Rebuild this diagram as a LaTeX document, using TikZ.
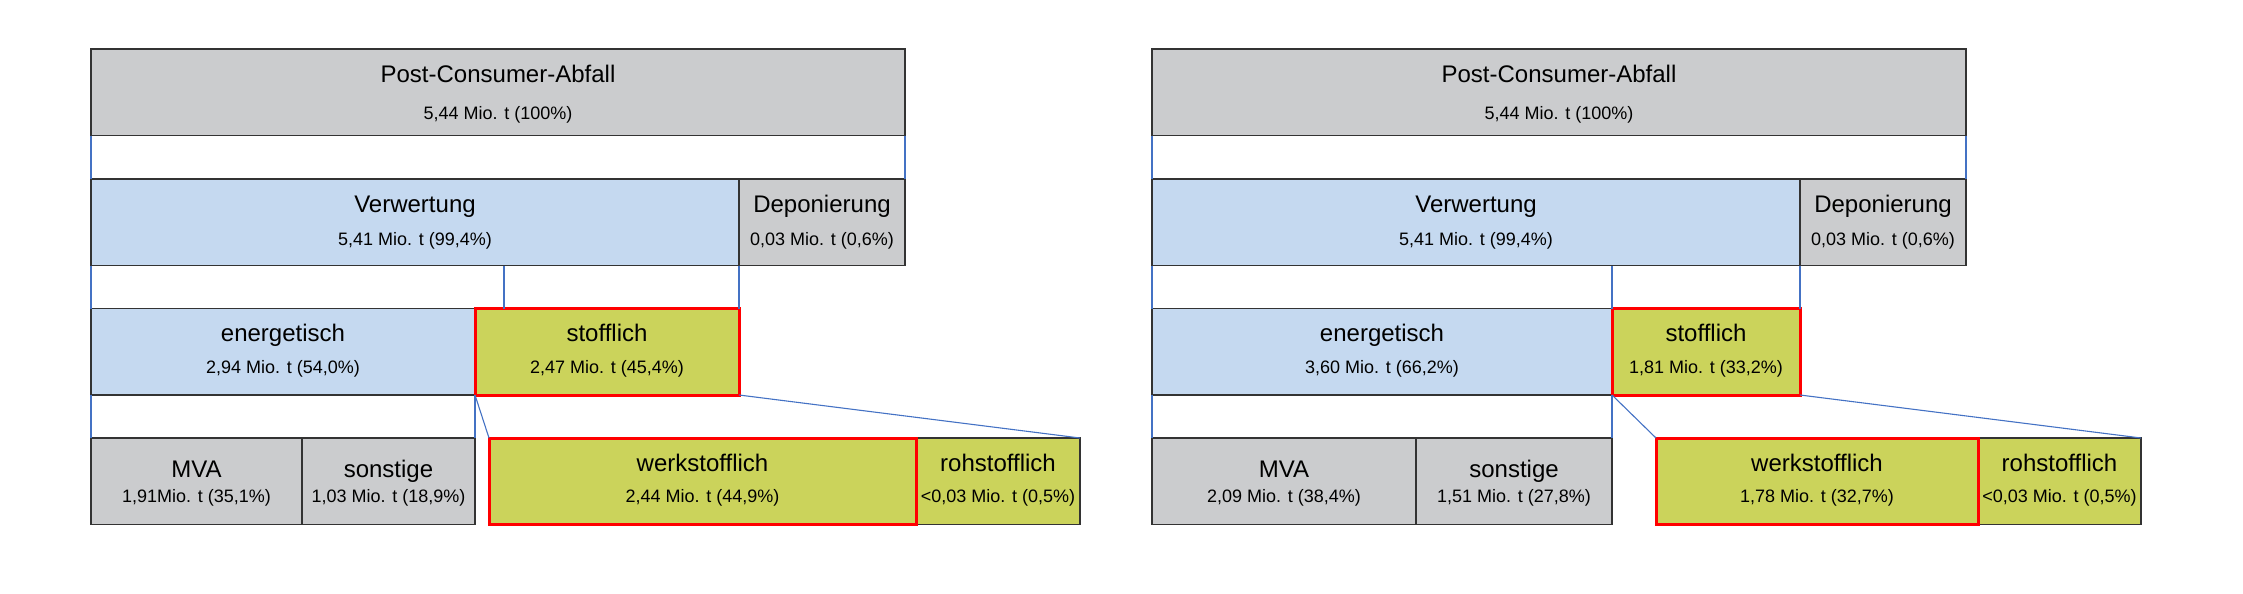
\documentclass[tikz,border=0pt]{standalone}
\usepackage{fontspec}
\setmainfont{Liberation Sans}
\definecolor{boxgray}{RGB}{203,204,206}
\definecolor{boxblue}{RGB}{197,217,240}
\definecolor{boxolive}{RGB}{203,211,91}
\definecolor{linkblue}{RGB}{68,114,196}
\begin{document}
\begin{tikzpicture}[x=1pt, y=-1pt,
    cell/.style={draw=black!80, line width=1.2pt, minimum height=86.5, anchor=north west, inner sep=0, outer sep=0},
    greybox/.style={cell, fill=boxgray},
    bluebox/.style={cell, fill=boxblue},
    olivebox/.style={cell, fill=boxolive},
    hilite/.style={draw=red, line width=3pt},
    ttl/.style={anchor=base, inner sep=0, font=\fontsize{24}{28}\selectfont},
    val/.style={anchor=base, inner sep=0, font=\fontsize{18}{22}\selectfont},
    link/.style={draw=linkblue, line width=1.1pt}]
    \useasboundingbox (0,0) rectangle (2243,594);

    \node[greybox, minimum width=814] (postA) at (91,49) {};
    \node[ttl] (postA-t) at ([yshift=-33]postA.north) {Post-Consumer-Abfall};
    \node[val] (postA-v) at ([yshift=-70]postA.north) {5,44 Mio. t (100\%)};
    \node[bluebox, minimum width=648] (verwA) at (91,179) {};
    \node[ttl] (verwA-t) at ([yshift=-33]verwA.north) {Verwertung};
    \node[val] (verwA-v) at ([yshift=-66.5]verwA.north) {5,41 Mio. t (99,4\%)};
    \node[greybox, minimum width=166] (depA) at (739,179) {};
    \node[ttl] (depA-t) at ([yshift=-33]depA.north) {Deponierung};
    \node[val] (depA-v) at ([yshift=-66.5]depA.north) {0,03 Mio. t (0,6\%)};
    \node[bluebox, minimum width=384] (enA) at (91,308.5) {};
    \node[ttl] (enA-t) at ([yshift=-33]enA.north) {energetisch};
    \node[val] (enA-v) at ([yshift=-65]enA.north) {2,94 Mio. t (54,0\%)};
    \node[olivebox, hilite, minimum width=264] (stoffA) at (475,308.5) {};
    \node[ttl] (stoffA-t) at ([yshift=-33]stoffA.north) {stofflich};
    \node[val] (stoffA-v) at ([yshift=-65]stoffA.north) {2,47 Mio. t (45,4\%)};
    \node[greybox, minimum width=211] (mvaA) at (91,438) {};
    \node[ttl] (mvaA-t) at ([yshift=-39]mvaA.north) {MVA};
    \node[val] (mvaA-v) at ([yshift=-64.5]mvaA.north) {1,91Mio. t (35,1\%)};
    \node[greybox, minimum width=173] (sonstA) at (302,438) {};
    \node[ttl] (sonstA-t) at ([yshift=-39]sonstA.north) {sonstige};
    \node[val] (sonstA-v) at ([yshift=-64.5]sonstA.north) {1,03 Mio. t (18,9\%)};
    \node[olivebox, minimum width=164] (rohA) at (916,438) {};
    \node[ttl] (rohA-t) at ([yshift=-33]rohA.north) {rohstofflich};
    \node[val] (rohA-v) at ([yshift=-64.5]rohA.north) {<0,03 Mio. t (0,5\%)};
    \node[olivebox, hilite, minimum width=427] (werkA) at (489,438) {};
    \node[ttl] (werkA-t) at ([yshift=-33]werkA.north) {werkstofflich};
    \node[val] (werkA-v) at ([yshift=-64.5]werkA.north) {2,44 Mio. t (44,9\%)};

    \node[greybox, minimum width=814] (postB) at (1152,49) {};
    \node[ttl] (postB-t) at ([yshift=-33]postB.north) {Post-Consumer-Abfall};
    \node[val] (postB-v) at ([yshift=-70]postB.north) {5,44 Mio. t (100\%)};
    \node[bluebox, minimum width=648] (verwB) at (1152,179) {};
    \node[ttl] (verwB-t) at ([yshift=-33]verwB.north) {Verwertung};
    \node[val] (verwB-v) at ([yshift=-66.5]verwB.north) {5,41 Mio. t (99,4\%)};
    \node[greybox, minimum width=166] (depB) at (1800,179) {};
    \node[ttl] (depB-t) at ([yshift=-33]depB.north) {Deponierung};
    \node[val] (depB-v) at ([yshift=-66.5]depB.north) {0,03 Mio. t (0,6\%)};
    \node[bluebox, minimum width=460] (enB) at (1152,308.5) {};
    \node[ttl] (enB-t) at ([yshift=-33]enB.north) {energetisch};
    \node[val] (enB-v) at ([yshift=-65]enB.north) {3,60 Mio. t (66,2\%)};
    \node[olivebox, hilite, minimum width=188] (stoffB) at (1612,308.5) {};
    \node[ttl] (stoffB-t) at ([yshift=-33]stoffB.north) {stofflich};
    \node[val] (stoffB-v) at ([yshift=-65]stoffB.north) {1,81 Mio. t (33,2\%)};
    \node[greybox, minimum width=264] (mvaB) at (1152,438) {};
    \node[ttl] (mvaB-t) at ([yshift=-39]mvaB.north) {MVA};
    \node[val] (mvaB-v) at ([yshift=-64.5]mvaB.north) {2,09 Mio. t (38,4\%)};
    \node[greybox, minimum width=196] (sonstB) at (1416,438) {};
    \node[ttl] (sonstB-t) at ([yshift=-39]sonstB.north) {sonstige};
    \node[val] (sonstB-v) at ([yshift=-64.5]sonstB.north) {1,51 Mio. t (27,8\%)};
    \node[olivebox, minimum width=163] (rohB) at (1978,438) {};
    \node[ttl] (rohB-t) at ([yshift=-33]rohB.north) {rohstofflich};
    \node[val] (rohB-v) at ([yshift=-64.5]rohB.north) {<0,03 Mio. t (0,5\%)};
    \node[olivebox, hilite, minimum width=322] (werkB) at (1656,438) {};
    \node[ttl] (werkB-t) at ([yshift=-33]werkB.north) {werkstofflich};
    \node[val] (werkB-v) at ([yshift=-64.5]werkB.north) {1,78 Mio. t (32,7\%)};

    \coordinate (splitA) at ([xshift=29]stoffA.north west);
    \draw[link] (postA.south west) -- (verwA.north west);
    \draw[link] (postA.south east) -- (depA.north east);
    \draw[link] (verwA.south west) -- (enA.north west);
    \draw[link] (splitA) -- (splitA |- verwA.south);
    \draw[link] (depA.south west) -- (stoffA.north east);
    \draw[link] (enA.south west) -- (mvaA.north west);
    \draw[link] (enA.south east) -- (sonstA.north east);
    \draw[link] (stoffA.south west) -- (werkA.north west);
    \draw[link] (stoffA.south east) -- (rohA.north east);

    \draw[link] (postB.south west) -- (verwB.north west);
    \draw[link] (postB.south east) -- (depB.north east);
    \draw[link] (verwB.south west) -- (enB.north west);
    \draw[link] (stoffB.north west) -- (stoffB.north west |- verwB.south);
    \draw[link] (depB.south west) -- (stoffB.north east);
    \draw[link] (enB.south west) -- (mvaB.north west);
    \draw[link] (enB.south east) -- (sonstB.north east);
    \draw[link] (stoffB.south west) -- (werkB.north west);
    \draw[link] (stoffB.south east) -- (rohB.north east);
\end{tikzpicture}
\end{document}
